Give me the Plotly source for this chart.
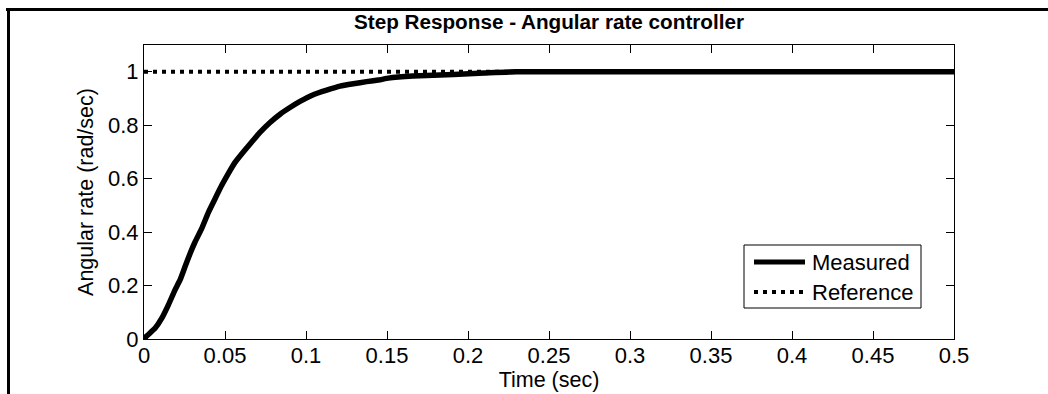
import plotly.graph_objects as go

# ---- data ----
time_measured = [0.0, 0.00165, 0.0068, 0.0109, 0.0150, 0.0191, 0.0222, 0.0253, 0.0284,
                 0.0315, 0.0356, 0.0397, 0.0438, 0.0479, 0.0521, 0.0562, 0.0613, 0.0665,
                 0.0716, 0.0778, 0.0840, 0.0901, 0.0963, 0.1045, 0.1128, 0.1210, 0.1292,
                 0.1374, 0.1457, 0.1508, 0.166, 0.191, 0.21, 0.23, 0.5]
rate_measured = [0.0, 0.011, 0.040, 0.077, 0.127, 0.183, 0.220, 0.270, 0.319,
                 0.363, 0.413, 0.473, 0.524, 0.574, 0.620, 0.661, 0.700, 0.737,
                 0.773, 0.810, 0.841, 0.866, 0.889, 0.914, 0.931, 0.946, 0.955,
                 0.963, 0.970, 0.976, 0.984, 0.990, 0.995, 1.0, 1.0]
time_reference = [0.0, 0.5]
rate_reference = [1.0, 1.0]

x_ticks = [0, 0.05, 0.1, 0.15, 0.2, 0.25, 0.3, 0.35, 0.4, 0.45, 0.5]
x_tick_labels = ["0", "0.05", "0.1", "0.15", "0.2", "0.25", "0.3", "0.35", "0.4", "0.45", "0.5"]
y_ticks = [0, 0.2, 0.4, 0.6, 0.8, 1]
y_tick_labels = ["0", "0.2", "0.4", "0.6", "0.8", "1"]

title_text = "Step Response - Angular rate controller"
x_title = "Time (sec)"
y_title = "Angular rate (rad/sec)"
legend_names = ["Measured", "Reference"]

# ---- layout geometry (pixels) ----
W, H = 1048, 394
L, R, T, B = 144, 94, 45, 55
PW, PH = W - L - R, H - T - B
FONT = "Liberation Sans, Arial, sans-serif"


def px(xp):
    return (xp - L) / PW


def py(yp):
    return (H - B - yp) / PH


fig = go.Figure()
fig.add_trace(go.Scatter(x=time_measured, y=rate_measured, mode="lines",
                         name=legend_names[0],
                         line=dict(color="black", width=5.5, shape="spline", smoothing=0.4),
                         showlegend=False))
fig.add_trace(go.Scatter(x=time_reference, y=rate_reference, mode="lines",
                         name=legend_names[1],
                         line=dict(color="black", width=4, dash="4px,5px"),
                         showlegend=False))

axis_common = dict(showgrid=False, zeroline=False, showline=True, linecolor="black",
                   linewidth=1, mirror="ticks", ticks="inside", ticklen=8, tickwidth=1,
                   tickcolor="black", tickfont=dict(family=FONT, size=22, color="black"))

fig.update_xaxes(range=[0, 0.5], tickvals=x_ticks, ticktext=x_tick_labels,
                 ticklabelstandoff=-3,
                 title=dict(text=x_title, font=dict(family=FONT, size=21.5, color="black"),
                            standoff=0),
                 **axis_common)
fig.update_yaxes(range=[0, 1.1], tickvals=y_ticks, ticktext=y_tick_labels,
                 title=dict(text=y_title, font=dict(family=FONT, size=21.5, color="black"),
                            standoff=8),
                 **axis_common)

shapes = []
# outer frame (top and left)
shapes.append(dict(type="line", xref="paper", yref="paper", x0=px(6), x1=px(1048),
                   y0=py(9.5), y1=py(9.5), line=dict(color="black", width=3)))
shapes.append(dict(type="line", xref="paper", yref="paper", x0=px(8.5), x1=px(8.5),
                   y0=py(8), y1=py(394), line=dict(color="black", width=3)))
# legend box
shapes.append(dict(type="rect", xref="paper", yref="paper", x0=px(744), x1=px(921),
                   y0=py(308), y1=py(245), line=dict(color="black", width=1),
                   fillcolor="white"))
shapes.append(dict(type="line", xref="paper", yref="paper", x0=px(754), x1=px(805),
                   y0=py(262), y1=py(262), line=dict(color="black", width=5)))
shapes.append(dict(type="line", xref="paper", yref="paper", x0=px(754), x1=px(805),
                   y0=py(292), y1=py(292), line=dict(color="black", width=4, dash="4px,5px")))

annotations = [
    dict(text=legend_names[0], xref="paper", yref="paper", x=px(810), y=py(262),
         xanchor="left", yanchor="middle", showarrow=False,
         font=dict(family=FONT, size=22, color="black")),
    dict(text=legend_names[1], xref="paper", yref="paper", x=px(810), y=py(292),
         xanchor="left", yanchor="middle", showarrow=False,
         font=dict(family=FONT, size=22, color="black")),
]

fig.update_layout(
    width=W, height=H,
    margin=dict(l=L, r=R, t=T, b=B, autoexpand=False),
    paper_bgcolor="white", plot_bgcolor="white",
    title=dict(text="<b>" + title_text + "</b>", x=549 / W,
               xanchor="center", y=1 - 22 / H, yanchor="middle", yref="container",
               font=dict(family=FONT, size=20.7, color="black")),
    shapes=shapes, annotations=annotations, showlegend=False,
)

fig.write_html("out.html")
